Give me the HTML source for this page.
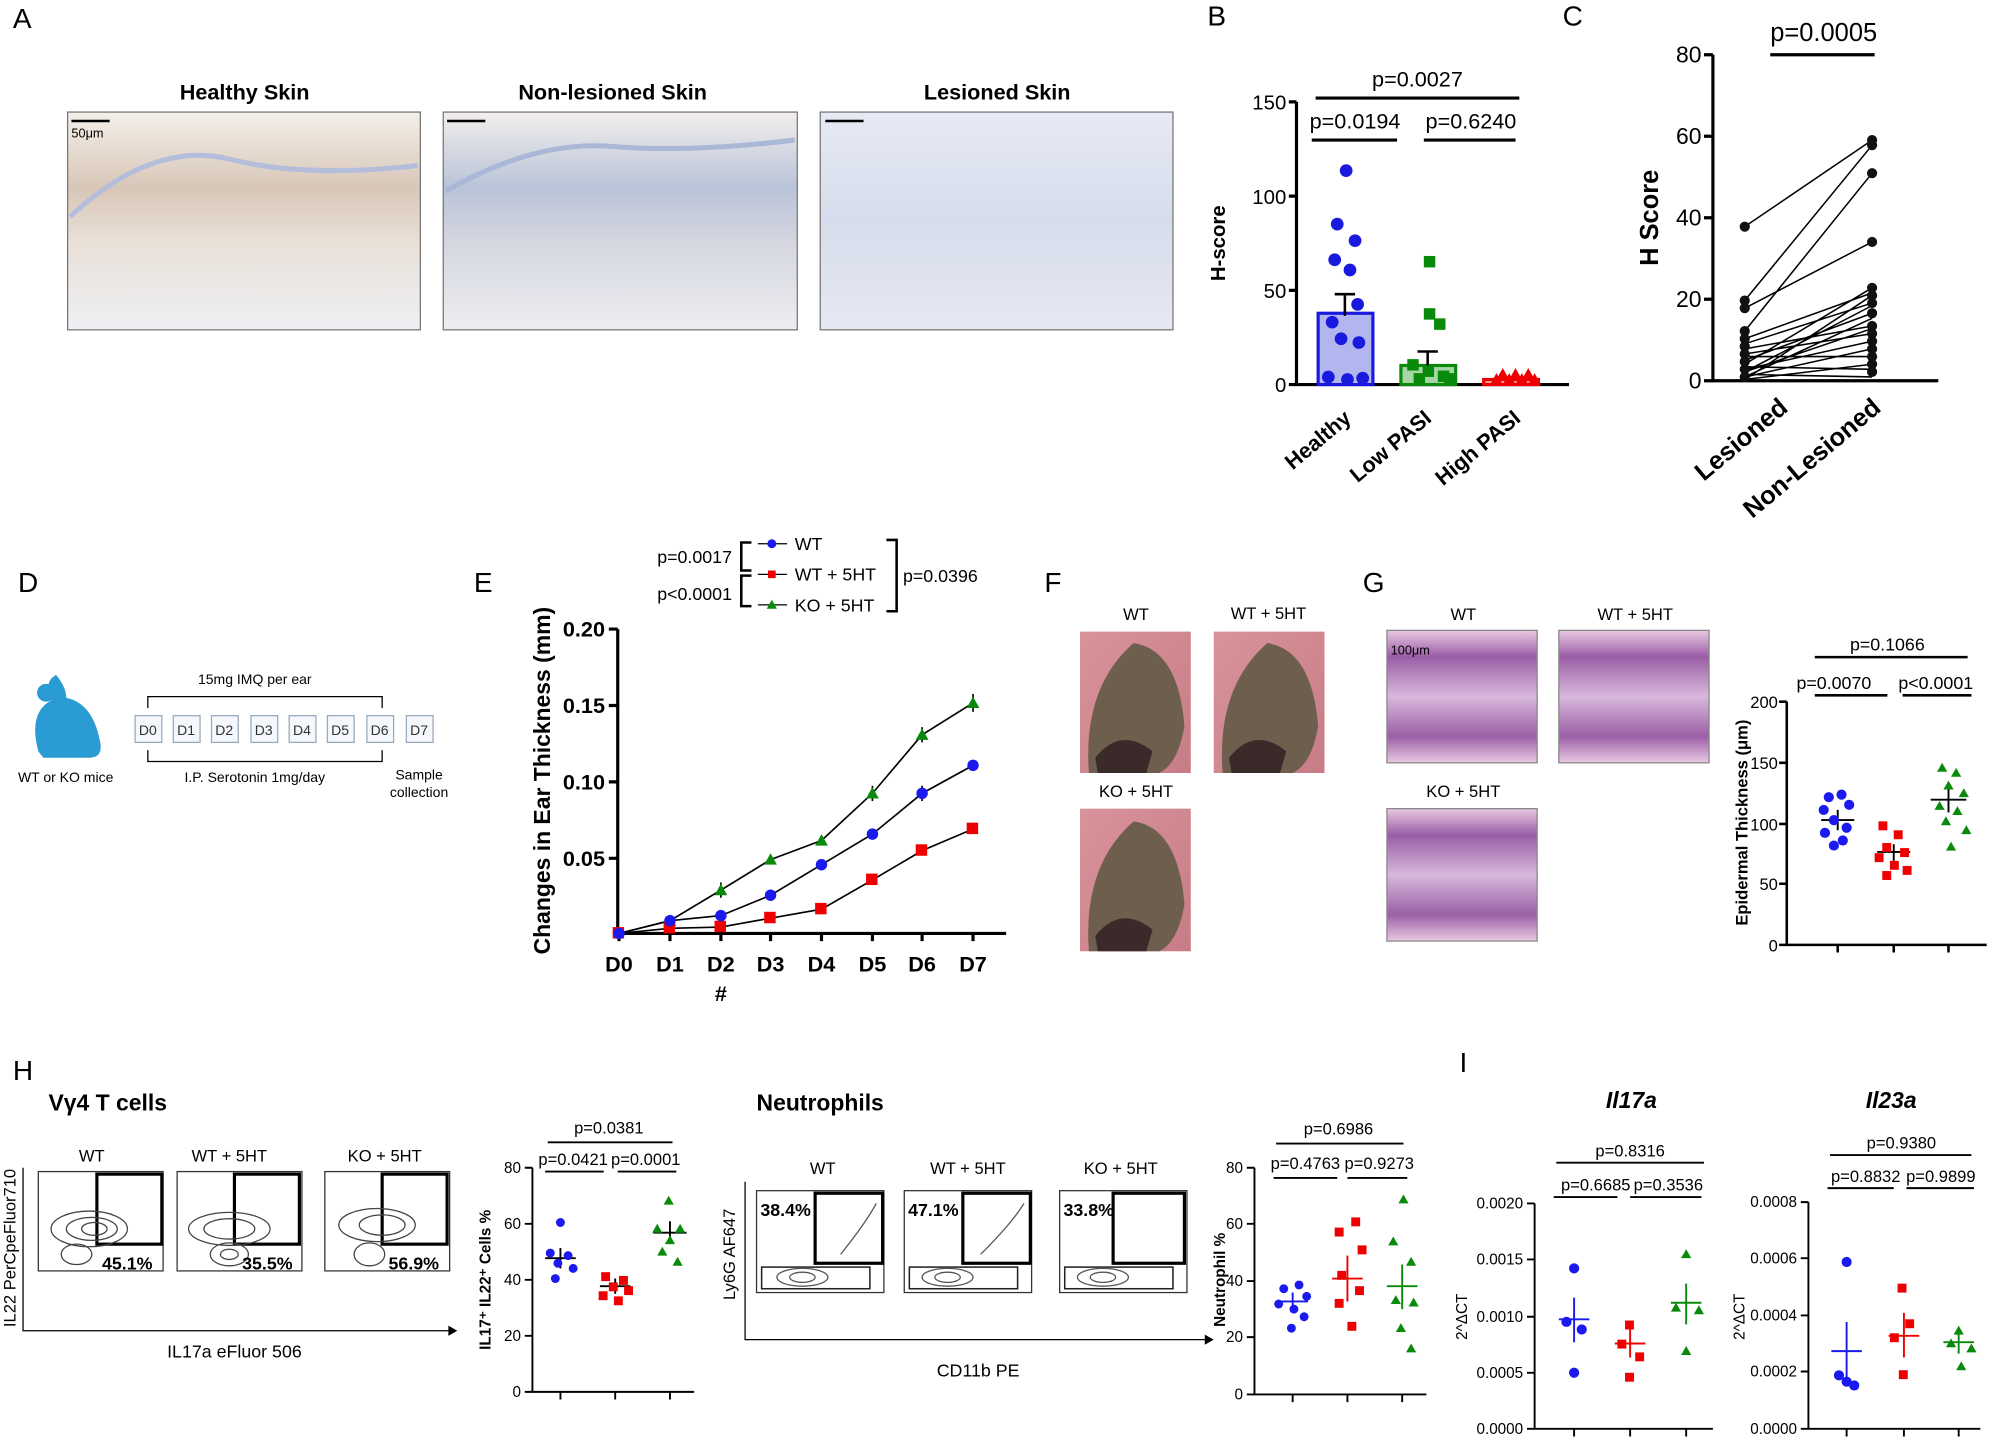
<!DOCTYPE html>
<html><head><meta charset="utf-8"><style>
html,body{margin:0;padding:0;background:#fff}
svg{display:block}
text{font-family:"Liberation Sans",sans-serif}
.b{font-weight:bold}
</style></head><body>
<svg width="1997" height="1439" viewBox="0 0 1568 1130" xmlns="http://www.w3.org/2000/svg">
<defs>
<linearGradient id="sk1" x1="0" y1="0" x2="0" y2="1"><stop offset="0" stop-color="#f4efe9"/><stop offset="0.35" stop-color="#d8c7b8"/><stop offset="0.6" stop-color="#e9e0d8"/><stop offset="1" stop-color="#eef0f4"/></linearGradient>
<linearGradient id="sk2" x1="0" y1="0" x2="0" y2="1"><stop offset="0" stop-color="#f2eeec"/><stop offset="0.35" stop-color="#b9c3d8"/><stop offset="0.6" stop-color="#d5d6df"/><stop offset="1" stop-color="#eceef2"/></linearGradient>
<linearGradient id="sk3" x1="0" y1="0" x2="0" y2="1"><stop offset="0" stop-color="#e6eaf4"/><stop offset="0.5" stop-color="#d7dcec"/><stop offset="1" stop-color="#e6e9f2"/></linearGradient>
<linearGradient id="he" x1="0" y1="0" x2="0" y2="1"><stop offset="0" stop-color="#e9c8e2"/><stop offset="0.2" stop-color="#9a5da5"/><stop offset="0.5" stop-color="#d8b8dc"/><stop offset="0.8" stop-color="#9b5fa6"/><stop offset="1" stop-color="#e9c8e2"/></linearGradient>
<linearGradient id="ear" x1="0" y1="0" x2="1" y2="1"><stop offset="0" stop-color="#d9939b"/><stop offset="1" stop-color="#c77c86"/></linearGradient>
</defs>
<g font-size="22"><text x="10" y="22">A</text><text x="948" y="20">B</text><text x="1227" y="20">C</text><text x="14" y="465">D</text><text x="372" y="465">E</text><text x="820" y="465">F</text><text x="1070" y="465">G</text><text x="10" y="848">H</text><text x="1146" y="842">I</text></g>

<!-- A -->
<g font-size="17" class="b" text-anchor="middle"><text x="192" y="78" class="b">Healthy Skin</text><text x="481" y="78" class="b">Non-lesioned Skin</text><text x="783" y="78" class="b">Lesioned Skin</text></g>
<rect x="53" y="88" width="277" height="171" fill="url(#sk1)" stroke="#777"/>
<rect x="348" y="88" width="278" height="171" fill="url(#sk2)" stroke="#777"/>
<rect x="644" y="88" width="277" height="171" fill="url(#sk3)" stroke="#777"/>
<path d="M55 170 Q120 110 180 125 T328 130" stroke="#b4bedb" stroke-width="4" fill="none"/>
<path d="M350 150 Q420 110 480 115 T624 110" stroke="#a9b8d6" stroke-width="4" fill="none"/>
<line x1="56" y1="95" x2="86" y2="95" stroke="#000" stroke-width="2"/><text x="56" y="108" font-size="10">50μm</text>
<line x1="351" y1="95" x2="381" y2="95" stroke="#000" stroke-width="2"/><line x1="648" y1="95" x2="678" y2="95" stroke="#000" stroke-width="2"/>

<!-- B -->
<g stroke="#000" stroke-width="2.5" fill="none"><path d="M1018 80V302H1232"/><path d="M1012 80H1018M1012 154H1018M1012 228H1018M1012 302H1018"/>
<path d="M1033 77H1193M1030 110H1097M1118 110H1190"/></g>
<g font-size="16" text-anchor="end"><text x="1010" y="86">150</text><text x="1010" y="160">100</text><text x="1010" y="234">50</text><text x="1010" y="308">0</text></g>
<text x="962" y="191" font-size="16" class="b" transform="rotate(-90 962 191)" text-anchor="middle">H-score</text>
<g font-size="17" text-anchor="middle"><text x="1113" y="68">p=0.0027</text><text x="1064" y="101">p=0.0194</text><text x="1155" y="101">p=0.6240</text></g>
<rect x="1035" y="246" width="43" height="56" fill="#b3b6ee" stroke="#1a1adf" stroke-width="2.5"/>
<rect x="1100" y="287" width="43" height="15" fill="#a5d6a5" stroke="#0a8a0a" stroke-width="2.5"/>
<rect x="1165" y="298" width="43" height="4" fill="#f5a0a0" stroke="#e00" stroke-width="2.5"/>
<path d="M1056 231V248M1048 231H1064M1121 276V287M1113 276H1129" stroke="#000" stroke-width="2"/>
<g fill="#1a1adf"><circle cx="1057" cy="134" r="5"/><circle cx="1050" cy="176" r="5"/><circle cx="1064" cy="189" r="5"/><circle cx="1048" cy="204" r="5"/><circle cx="1060" cy="212" r="5"/><circle cx="1066" cy="239" r="5"/><circle cx="1046" cy="253" r="5"/><circle cx="1053" cy="266" r="5"/><circle cx="1067" cy="269" r="5"/><circle cx="1043" cy="296" r="5"/><circle cx="1058" cy="298" r="5"/><circle cx="1070" cy="297" r="5"/></g>
<g fill="#0a8a0a"><rect x="1118" y="201" width="9" height="9"/><rect x="1118" y="242" width="9" height="9"/><rect x="1126" y="250" width="9" height="9"/><rect x="1105" y="282" width="9" height="9"/><rect x="1117" y="287" width="9" height="9"/><rect x="1129" y="291" width="9" height="9"/><rect x="1110" y="293" width="9" height="9"/><rect x="1134" y="293" width="9" height="9"/></g>
<g fill="#e00"><path d="M1175 298l5-9 5 9z M1185 298l5-9 5 9z M1195 298l5-9 5 9z M1180 302l5-9 5 9z M1190 302l5-9 5 9z M1200 302l5-9 5 9z M1170 302l5-9 5 9z"/></g>
<g font-size="17" class="b"><text transform="translate(1062 330) rotate(-40)" text-anchor="end">Healthy</text><text transform="translate(1125 330) rotate(-40)" text-anchor="end">Low PASI</text><text transform="translate(1195 330) rotate(-40)" text-anchor="end">High PASI</text></g>

<!-- C -->
<g stroke="#000" stroke-width="2.5" fill="none"><path d="M1345 43V299H1522"/><path d="M1338 43H1345M1338 107H1345M1338 171H1345M1338 235H1345M1338 299H1345"/><path d="M1390 43H1472"/></g>
<g font-size="18" text-anchor="end"><text x="1336" y="49">80</text><text x="1336" y="113">60</text><text x="1336" y="177">40</text><text x="1336" y="241">20</text><text x="1336" y="305">0</text></g>
<text x="1432" y="32" font-size="20" text-anchor="middle">p=0.0005</text>
<text x="1302" y="171" font-size="20" class="b" transform="rotate(-90 1302 171)" text-anchor="middle">H Score</text>
<g stroke="#000" stroke-width="1.2"><path d="M1370 178L1470 110M1370 236L1470 114M1370 242L1470 190M1370 260L1470 136M1370 266L1470 230M1370 270L1470 238M1370 274L1470 256M1370 278L1470 262M1370 280L1470 280M1370 283L1470 246M1370 286L1470 226M1370 288L1470 290M1370 290L1470 268M1370 292L1470 240M1370 294L1470 296M1370 296L1470 250M1370 298L1470 286M1370 298L1470 232M1370 296L1470 274M1370 292L1470 258"/></g>
<g fill="#111"><circle cx="1370" cy="178" r="4"/><circle cx="1370" cy="236" r="4"/><circle cx="1370" cy="242" r="4"/><circle cx="1370" cy="260" r="4"/><circle cx="1370" cy="266" r="4"/><circle cx="1370" cy="272" r="4"/><circle cx="1370" cy="278" r="4"/><circle cx="1370" cy="284" r="4"/><circle cx="1370" cy="290" r="4"/><circle cx="1370" cy="296" r="4"/>
<circle cx="1470" cy="110" r="4"/><circle cx="1470" cy="114" r="4"/><circle cx="1470" cy="136" r="4"/><circle cx="1470" cy="190" r="4"/><circle cx="1470" cy="226" r="4"/><circle cx="1470" cy="232" r="4"/><circle cx="1470" cy="238" r="4"/><circle cx="1470" cy="246" r="4"/><circle cx="1470" cy="256" r="4"/><circle cx="1470" cy="262" r="4"/><circle cx="1470" cy="268" r="4"/><circle cx="1470" cy="274" r="4"/><circle cx="1470" cy="280" r="4"/><circle cx="1470" cy="286" r="4"/><circle cx="1470" cy="292" r="4"/></g>
<g font-size="20" class="b"><text transform="translate(1405 322) rotate(-40)" text-anchor="end">Lesioned</text><text transform="translate(1478 322) rotate(-40)" text-anchor="end">Non-Lesioned</text></g>

<!-- D -->
<path d="M30 590 Q22 560 40 550 Q34 535 44 530 Q52 540 52 548 Q72 552 78 580 Q82 595 70 595 L34 595 Z" fill="#2a9bd3"/>
<circle cx="36" cy="544" r="7" fill="#2a9bd3"/>
<text x="14" y="614" font-size="11">WT or KO mice</text>
<text x="200" y="537" font-size="11" text-anchor="middle">15mg IMQ per ear</text>
<path d="M116 556V547H300V556M116 589V598H300V589" stroke="#000" fill="none"/>
<text x="200" y="614" font-size="11" text-anchor="middle">I.P. Serotonin 1mg/day</text>
<text x="329" y="612" font-size="11" text-anchor="middle">Sample</text><text x="329" y="626" font-size="11" text-anchor="middle">collection</text>
<g font-size="11" text-anchor="middle" fill="#333">
<g stroke="#9ab" fill="#f4f7fb"><rect x="106" y="562" width="21" height="21"/><rect x="136" y="562" width="21" height="21"/><rect x="166" y="562" width="21" height="21"/><rect x="197" y="562" width="21" height="21"/><rect x="227" y="562" width="21" height="21"/><rect x="257" y="562" width="21" height="21"/><rect x="288" y="562" width="21" height="21"/><rect x="319" y="562" width="21" height="21"/></g>
<text x="116" y="577">D0</text><text x="146" y="577">D1</text><text x="176" y="577">D2</text><text x="207" y="577">D3</text><text x="237" y="577">D4</text><text x="267" y="577">D5</text><text x="298" y="577">D6</text><text x="329" y="577">D7</text></g>

<!-- E -->
<g font-size="14"><text x="516" y="442">p=0.0017</text><text x="516" y="471">p&lt;0.0001</text><text x="709" y="457">p=0.0396</text><text x="624" y="432">WT</text><text x="624" y="456">WT + 5HT</text><text x="624" y="480">KO + 5HT</text></g>
<path d="M590 426H582V448H590M590 452H582V476H590M696 424H704V480H696" stroke="#000" stroke-width="2" fill="none"/>
<path d="M595 427H618M595 451H618M595 475H618" stroke="#000"/>
<circle cx="606" cy="427" r="3.5" fill="#1a1aef"/><rect x="603" y="448" width="6" height="6" fill="#e00"/><path d="M602 478l4-7 4 7z" fill="#0a8a0a"/>
<g stroke="#000" stroke-width="2.5" fill="none"><path d="M485 494V733H790"/><path d="M478 494H485M478 554H485M478 614H485M478 674H485"/>
<path d="M486 733v6M526 733v6M566 733v6M605 733v6M645 733v6M685 733v6M724 733v6M764 733v6"/></g>
<g font-size="17" class="b" text-anchor="end"><text x="475" y="500">0.20</text><text x="475" y="560">0.15</text><text x="475" y="620">0.10</text><text x="475" y="680">0.05</text></g>
<g font-size="17" class="b" text-anchor="middle"><text x="486" y="763">D0</text><text x="526" y="763">D1</text><text x="566" y="763">D2</text><text x="605" y="763">D3</text><text x="645" y="763">D4</text><text x="685" y="763">D5</text><text x="724" y="763">D6</text><text x="764" y="763">D7</text><text x="566" y="786">#</text></g>
<text x="432" y="613" font-size="18" class="b" transform="rotate(-90 432 613)" text-anchor="middle">Changes in Ear Thickness (mm)</text>
<g stroke="#000" stroke-width="1.3" fill="none">
<polyline points="486,733 526,723 566,699 605,675 645,660 685,623 724,577 764,552"/>
<polyline points="486,733 526,723 566,719 605,703 645,679 685,655 724,623 764,601"/>
<polyline points="486,733 526,729 566,728 605,721 645,714 685,691 724,668 764,651"/>
<path d="M566 693v12M685 617v12M724 571v12M764 545v14M724 617v12"/></g>
<g fill="#0a8a0a"><path d="M521 727l5-9 5 9zM561 703l5-9 5 9zM600 679l5-9 5 9zM640 664l5-9 5 9zM680 627l5-9 5 9zM719 581l5-9 5 9zM759 556l5-9 5 9z"/></g>
<g fill="#e00"><rect x="481" y="728" width="9" height="9"/><rect x="521" y="724" width="9" height="9"/><rect x="561" y="723" width="9" height="9"/><rect x="600" y="716" width="9" height="9"/><rect x="640" y="709" width="9" height="9"/><rect x="680" y="686" width="9" height="9"/><rect x="719" y="663" width="9" height="9"/><rect x="759" y="646" width="9" height="9"/></g>
<g fill="#1a1aef"><circle cx="486" cy="733" r="4.5"/><circle cx="526" cy="723" r="4.5"/><circle cx="566" cy="719" r="4.5"/><circle cx="605" cy="703" r="4.5"/><circle cx="645" cy="679" r="4.5"/><circle cx="685" cy="655" r="4.5"/><circle cx="724" cy="623" r="4.5"/><circle cx="764" cy="601" r="4.5"/></g>

<!-- F -->
<g font-size="13" text-anchor="middle"><text x="892" y="487">WT</text><text x="996" y="486">WT + 5HT</text><text x="892" y="626">KO + 5HT</text></g>
<rect x="848" y="496" width="87" height="111" fill="url(#ear)"/><rect x="953" y="496" width="87" height="111" fill="url(#ear)"/><rect x="848" y="635" width="87" height="112" fill="url(#ear)"/>
<g fill="#6e5e4e"><path d="M855 607 Q850 540 890 505 Q925 510 930 570 Q925 600 910 607Z"/><path d="M960 607 Q955 540 995 505 Q1030 510 1035 570 Q1030 600 1015 607Z"/><path d="M855 747 Q850 680 890 645 Q925 650 930 710 Q925 740 910 747Z"/></g>
<g fill="#3a2a2a"><path d="M860 595 Q880 570 905 590 L900 607 H862Z"/><path d="M965 595 Q985 570 1010 590 L1005 607 H967Z"/><path d="M860 735 Q880 710 905 730 L900 747 H862Z"/></g>

<!-- G -->
<g font-size="13" text-anchor="middle"><text x="1149" y="487">WT</text><text x="1284" y="487">WT + 5HT</text><text x="1149" y="626">KO + 5HT</text></g>
<rect x="1089" y="495" width="118" height="104" fill="url(#he)" stroke="#888"/><rect x="1224" y="495" width="118" height="104" fill="url(#he)" stroke="#888"/><rect x="1089" y="635" width="118" height="104" fill="url(#he)" stroke="#888"/>
<text x="1092" y="514" font-size="10">100μm</text>
<g stroke="#000" stroke-width="2" fill="none"><path d="M1403 551V742H1560"/><path d="M1397 551H1403M1397 599H1403M1397 647H1403M1397 694H1403M1397 742H1403M1443 742v6M1487 742v6M1530 742v6"/>
<path d="M1425 516H1545M1425 546H1482M1494 546H1548"/></g>
<g font-size="13" text-anchor="end"><text x="1396" y="556">200</text><text x="1396" y="604">150</text><text x="1396" y="652">100</text><text x="1396" y="699">50</text><text x="1396" y="747">0</text></g>
<g font-size="14" text-anchor="middle"><text x="1482" y="511">p=0.1066</text><text x="1440" y="541">p=0.0070</text><text x="1520" y="541">p&lt;0.0001</text></g>
<text x="1372" y="646" font-size="13" class="b" transform="rotate(-90 1372 646)" text-anchor="middle">Epidermal Thickness (μm)</text>
<g stroke="#000" stroke-width="1.5"><path d="M1430 644H1456M1443 636V652M1474 669H1500M1487 663V676M1516 628H1544M1530 618V638"/></g>
<g fill="#1a1aef"><circle cx="1436" cy="626" r="4"/><circle cx="1446" cy="624" r="4"/><circle cx="1432" cy="636" r="4"/><circle cx="1452" cy="632" r="4"/><circle cx="1440" cy="644" r="4"/><circle cx="1450" cy="650" r="4"/><circle cx="1433" cy="654" r="4"/><circle cx="1447" cy="660" r="4"/><circle cx="1440" cy="664" r="4"/></g>
<g fill="#e00"><rect x="1475" y="645" width="7" height="7"/><rect x="1487" y="652" width="7" height="7"/><rect x="1478" y="662" width="7" height="7"/><rect x="1492" y="666" width="7" height="7"/><rect x="1472" y="670" width="7" height="7"/><rect x="1484" y="676" width="7" height="7"/><rect x="1494" y="680" width="7" height="7"/><rect x="1478" y="684" width="7" height="7"/></g>
<g fill="#0a8a0a"><path d="M1521 606l4-7 4 7zM1532 610l4-7 4 7zM1526 620l4-7 4 7zM1538 626l4-7 4 7zM1519 636l4-7 4 7zM1533 640l4-7 4 7zM1524 648l4-7 4 7zM1540 655l4-7 4 7zM1528 668l4-7 4 7z"/></g>

<!-- H flow left -->
<text x="38" y="872" font-size="18" class="b">Vγ4 T cells</text>
<g font-size="13" text-anchor="middle"><text x="72" y="912">WT</text><text x="180" y="912">WT + 5HT</text><text x="302" y="912">KO + 5HT</text></g>
<g stroke="#333" fill="none"><rect x="30" y="920" width="98" height="78"/><rect x="139" y="920" width="98" height="78"/><rect x="255" y="920" width="98" height="78"/></g>
<g stroke="#000" stroke-width="2.5" fill="none"><rect x="76" y="922" width="51" height="55"/><rect x="184" y="922" width="51" height="55"/><rect x="300" y="922" width="51" height="55"/></g>
<g stroke="#444" stroke-width="1" fill="none">
<ellipse cx="70" cy="965" rx="30" ry="14"/><ellipse cx="72" cy="965" rx="20" ry="9"/><ellipse cx="74" cy="965" rx="10" ry="5"/><ellipse cx="60" cy="985" rx="12" ry="8"/>
<ellipse cx="180" cy="965" rx="32" ry="13"/><ellipse cx="180" cy="965" rx="20" ry="8"/><ellipse cx="180" cy="985" rx="15" ry="9"/><ellipse cx="180" cy="985" rx="7" ry="4"/>
<ellipse cx="296" cy="962" rx="30" ry="13"/><ellipse cx="300" cy="962" rx="18" ry="8"/><ellipse cx="290" cy="985" rx="12" ry="9"/></g>
<g font-size="14" class="b"><text x="80" y="997">45.1%</text><text x="190" y="997">35.5%</text><text x="305" y="997">56.9%</text></g>
<path d="M18 917V1045H358" stroke="#000" fill="none"/><path d="M352 1041l7 4-7 4z"/>
<text x="12" y="980" font-size="13" transform="rotate(-90 12 980)" text-anchor="middle">IL22 PerCpeFluor710</text>
<text x="184" y="1066" font-size="14" text-anchor="middle">IL17a eFluor 506</text>

<!-- H scatter 1 -->
<g stroke="#000" stroke-width="1.5" fill="none"><path d="M418 917V1093H545"/><path d="M412 917H418M412 961H418M412 1005H418M412 1049H418M412 1093H418M440 1093v6M483 1093v6M526 1093v6"/><path d="M430 897H528M428 920H474M485 920H531"/></g>
<g font-size="12" text-anchor="end"><text x="409" y="921">80</text><text x="409" y="965">60</text><text x="409" y="1009">40</text><text x="409" y="1053">20</text><text x="409" y="1097">0</text></g>
<g font-size="13" text-anchor="middle"><text x="478" y="890">p=0.0381</text><text x="450" y="915">p=0.0421</text><text x="507" y="915">p=0.0001</text></g>
<text x="385" y="1005" font-size="12" class="b" transform="rotate(-90 385 1005)" text-anchor="middle">IL17⁺ IL22⁺ Cells %</text>
<path d="M428 988H452M440 980V996M471 1010H495M483 1004V1016M513 968H539M526 959V977" stroke="#000" stroke-width="1.5"/>
<g fill="#1a1aef"><circle cx="440" cy="960" r="3.5"/><circle cx="432" cy="984" r="3.5"/><circle cx="446" cy="986" r="3.5"/><circle cx="438" cy="992" r="3.5"/><circle cx="450" cy="996" r="3.5"/><circle cx="436" cy="1004" r="3.5"/></g>
<g fill="#e00"><rect x="472" y="999" width="7" height="7"/><rect x="486" y="1002" width="7" height="7"/><rect x="478" y="1007" width="7" height="7"/><rect x="490" y="1010" width="7" height="7"/><rect x="470" y="1014" width="7" height="7"/><rect x="482" y="1018" width="7" height="7"/></g>
<g fill="#0a8a0a"><path d="M521 946l4-7 4 7zM512 968l4-7 4 7zM530 968l4-7 4 7zM522 977l4-7 4 7zM516 986l4-7 4 7zM528 994l4-7 4 7z"/></g>

<!-- Neutrophils flow -->
<text x="594" y="872" font-size="18" class="b">Neutrophils</text>
<g font-size="13" text-anchor="middle"><text x="646" y="922">WT</text><text x="760" y="922">WT + 5HT</text><text x="880" y="922">KO + 5HT</text></g>
<g stroke="#333" fill="none"><rect x="594" y="935" width="100" height="80"/><rect x="710" y="935" width="100" height="80"/><rect x="832" y="935" width="100" height="80"/></g>
<g stroke="#000" stroke-width="2.5" fill="none"><rect x="640" y="937" width="53" height="55"/><rect x="756" y="937" width="53" height="55"/><rect x="874" y="937" width="56" height="55"/></g>
<g stroke="#222" stroke-width="1.2" fill="none"><rect x="598" y="995" width="85" height="17"/><rect x="714" y="995" width="85" height="17"/><rect x="836" y="995" width="85" height="17"/></g>
<g stroke="#555" stroke-width="1" fill="none"><ellipse cx="630" cy="1003" rx="20" ry="7"/><ellipse cx="630" cy="1003" rx="10" ry="4"/><path d="M660 985 Q680 960 688 945"/><ellipse cx="744" cy="1003" rx="20" ry="7"/><ellipse cx="744" cy="1003" rx="10" ry="4"/><path d="M770 985 Q795 960 804 945"/><ellipse cx="866" cy="1003" rx="20" ry="7"/><ellipse cx="866" cy="1003" rx="10" ry="4"/></g>
<g font-size="14" class="b"><text x="597" y="955">38.4%</text><text x="713" y="955">47.1%</text><text x="835" y="955">33.8%</text></g>
<path d="M585 928V1052H950" stroke="#000" fill="none"/><path d="M946 1048l7 4-7 4z"/>
<text x="577" y="985" font-size="13" transform="rotate(-90 577 985)" text-anchor="middle">Ly6G AF647</text>
<text x="768" y="1081" font-size="14" text-anchor="middle">CD11b PE</text>

<!-- H scatter 2 -->
<g stroke="#000" stroke-width="1.5" fill="none"><path d="M985 917V1095H1120"/><path d="M979 917H985M979 961H985M979 1006H985M979 1050H985M979 1095H985M1015 1095v6M1058 1095v6M1101 1095v6"/><path d="M1002 898H1102M1000 925H1050M1058 925H1105"/></g>
<g font-size="12" text-anchor="end"><text x="976" y="921">80</text><text x="976" y="965">60</text><text x="976" y="1010">40</text><text x="976" y="1054">20</text><text x="976" y="1099">0</text></g>
<g font-size="13" text-anchor="middle"><text x="1051" y="891">p=0.6986</text><text x="1025" y="918">p=0.4763</text><text x="1083" y="918">p=0.9273</text></g>
<text x="962" y="1005" font-size="12" class="b" transform="rotate(-90 962 1005)" text-anchor="middle">Neutrophil %</text>
<path d="M1003 1022H1027M1015 1015V1029" stroke="#1a1aef" stroke-width="1.5"/><path d="M1046 1004H1070M1058 986V1022" stroke="#e00" stroke-width="1.5"/><path d="M1089 1010H1113M1101 993V1028" stroke="#0a8a0a" stroke-width="1.5"/>
<g fill="#1a1aef"><circle cx="1008" cy="1012" r="3.5"/><circle cx="1020" cy="1009" r="3.5"/><circle cx="1026" cy="1018" r="3.5"/><circle cx="1004" cy="1024" r="3.5"/><circle cx="1016" cy="1028" r="3.5"/><circle cx="1024" cy="1034" r="3.5"/><circle cx="1014" cy="1043" r="3.5"/></g>
<g fill="#e00"><rect x="1061" y="956" width="7" height="7"/><rect x="1048" y="964" width="7" height="7"/><rect x="1066" y="978" width="7" height="7"/><rect x="1050" y="998" width="7" height="7"/><rect x="1064" y="1010" width="7" height="7"/><rect x="1048" y="1020" width="7" height="7"/><rect x="1058" y="1038" width="7" height="7"/></g>
<g fill="#0a8a0a"><path d="M1098 945l4-7 4 7zM1090 978l4-7 4 7zM1104 994l4-7 4 7zM1092 1024l4-7 4 7zM1106 1026l4-7 4 7zM1096 1046l4-7 4 7zM1104 1062l4-7 4 7z"/></g>

<!-- I -->
<g font-size="18" class="b" font-style="italic" text-anchor="middle"><text x="1281" y="870">Il17a</text><text x="1485" y="870">Il23a</text></g>
<g stroke="#000" stroke-width="1.5" fill="none"><path d="M1205 945V1122H1345"/><path d="M1199 945H1205M1199 989H1205M1199 1034H1205M1199 1078H1205M1199 1122H1205M1236 1122v6M1280 1122v6M1324 1122v6"/><path d="M1222 913H1338M1220 940H1270M1280 940H1336"/>
<path d="M1420 944V1122H1555"/><path d="M1414 944H1420M1414 988H1420M1414 1033H1420M1414 1077H1420M1414 1122H1420M1450 1122v6M1495 1122v6M1538 1122v6"/><path d="M1437 907H1548M1435 933H1487M1497 933H1550"/></g>
<g font-size="12" text-anchor="end"><text x="1196" y="949">0.0020</text><text x="1196" y="993">0.0015</text><text x="1196" y="1038">0.0010</text><text x="1196" y="1082">0.0005</text><text x="1196" y="1126">0.0000</text>
<text x="1411" y="948">0.0008</text><text x="1411" y="992">0.0006</text><text x="1411" y="1037">0.0004</text><text x="1411" y="1081">0.0002</text><text x="1411" y="1126">0.0000</text></g>
<g font-size="13" text-anchor="middle"><text x="1280" y="908">p=0.8316</text><text x="1253" y="935">p=0.6685</text><text x="1310" y="935">p=0.3536</text><text x="1493" y="902">p=0.9380</text><text x="1465" y="928">p=0.8832</text><text x="1524" y="928">p=0.9899</text></g>
<text x="1152" y="1034" font-size="12" transform="rotate(-90 1152 1034)" text-anchor="middle">2^ΔCT</text>
<text x="1370" y="1034" font-size="12" transform="rotate(-90 1370 1034)" text-anchor="middle">2^ΔCT</text>
<path d="M1224 1036H1248M1236 1019V1054M1438 1061H1462M1450 1038V1085" stroke-width="1.5" stroke="#1a1aef"/>
<path d="M1268 1055H1292M1280 1044V1066M1483 1049H1507M1495 1031V1066" stroke-width="1.5" stroke="#e00"/>
<path d="M1312 1023H1336M1324 1008V1040M1526 1054H1550M1538 1044V1063" stroke-width="1.5" stroke="#0a8a0a"/>
<g fill="#1a1aef"><circle cx="1236" cy="996" r="4"/><circle cx="1230" cy="1038" r="4"/><circle cx="1242" cy="1044" r="4"/><circle cx="1236" cy="1078" r="4"/><circle cx="1450" cy="991" r="4"/><circle cx="1444" cy="1080" r="4"/><circle cx="1456" cy="1088" r="4"/><circle cx="1450" cy="1085" r="4"/></g>
<g fill="#e00"><rect x="1276" y="1037" width="7" height="7"/><rect x="1270" y="1052" width="7" height="7"/><rect x="1284" y="1062" width="7" height="7"/><rect x="1276" y="1078" width="7" height="7"/><rect x="1490" y="1008" width="7" height="7"/><rect x="1496" y="1036" width="7" height="7"/><rect x="1484" y="1047" width="7" height="7"/><rect x="1491" y="1076" width="7" height="7"/></g>
<g fill="#0a8a0a"><path d="M1320 988l4-7 4 7zM1312 1030l4-7 4 7zM1330 1032l4-7 4 7zM1320 1064l4-7 4 7zM1534 1048l4-7 4 7zM1528 1058l4-7 4 7zM1544 1062l4-7 4 7zM1536 1076l4-7 4 7z"/></g>
</svg>
</body></html>
